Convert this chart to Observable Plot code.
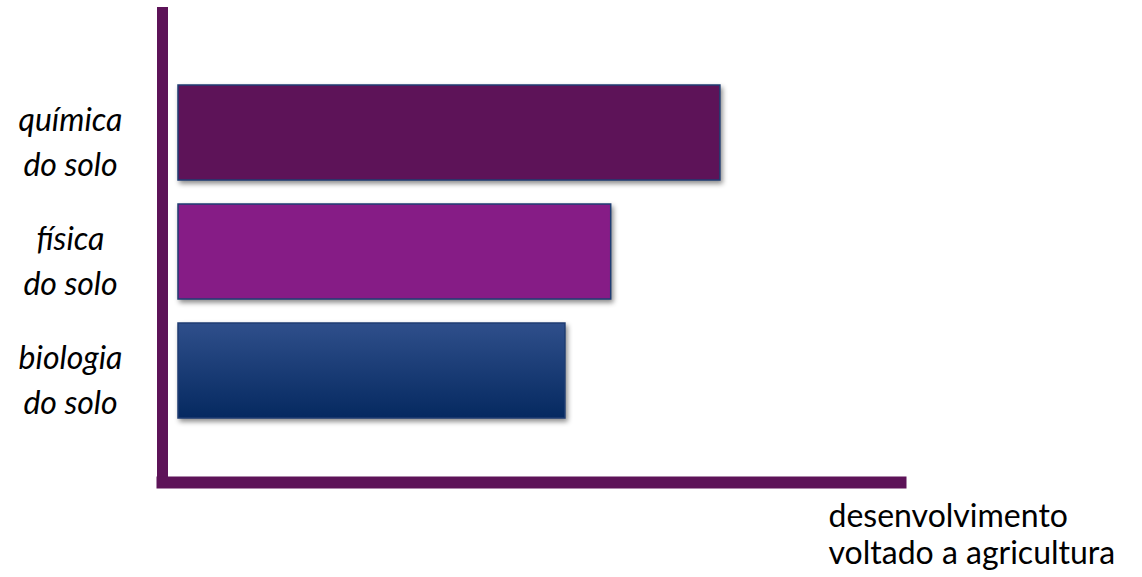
<!DOCTYPE html>
<html><head><meta charset="utf-8">
<script src="https://cdn.jsdelivr.net/npm/d3@7"></script>
<script src="https://cdn.jsdelivr.net/npm/@observablehq/plot@0.6"></script>
<style>body{margin:0;background:#fff;}</style>
</head><body><div id="chart"></div>
<script>
const categories = ["química do solo", "física do solo", "biologia do solo"];
const categoryLines = [["química", "do solo"], ["física", "do solo"], ["biologia", "do solo"]];
const values = [75.6, 60.8, 54.6];
const fills = ["#5d1358", "#861c86", "url(#bioGrad)"];
const xLabelLines = ["desenvolvimento", "voltado a agricultura"];

const data = categories.map((c, i) => ({category: c, value: values[i], fill: fills[i]}));
const axisColor = "#5d1358";

const plot = Plot.plot({
  width: 1142, height: 577,
  marginLeft: 162, marginRight: 242, marginTop: 12, marginBottom: 95,
  x: {domain: [0, 100], axis: null},
  y: {domain: categories, range: [72, 430.5], paddingInner: 0.2, paddingOuter: 0.1, axis: null},
  color: {type: "identity"},
  style: {fontFamily: "Lato, sans-serif", background: "#fff"},
  marks: [
    Plot.barX(data, {y: "category", x: "value", fill: "fill", stroke: "#1f3d73", strokeWidth: 1.5, insetLeft: 16}),
    Plot.frame({anchor: "left", stroke: axisColor, strokeWidth: 11, strokeLinecap: "square"}),
    Plot.frame({anchor: "bottom", stroke: axisColor, strokeWidth: 12, strokeLinecap: "square"}),
    Plot.axisY({tickSize: 0, tickPadding: 92, textAnchor: "middle", dy: 6, lineHeight: 1.4, label: null,
      fontSize: 32, fontStyle: "italic", fill: "#000",
      tickFormat: d => categoryLines[categories.indexOf(d)].join("\n")}),
    Plot.text([xLabelLines.join("\n")], {frameAnchor: "bottom-right", textAnchor: "start", lineAnchor: "top",
      dx: -72, dy: 18, fontSize: 32, lineHeight: 1.16, fill: "#000"})
  ]
});

const svg = d3.select(plot);
const defs = svg.insert("defs", ":first-child");
const g = defs.append("linearGradient").attr("id", "bioGrad").attr("x1", 0).attr("y1", 0).attr("x2", 0).attr("y2", 1);
g.append("stop").attr("offset", "0%").attr("stop-color", "#2f4f8b");
g.append("stop").attr("offset", "100%").attr("stop-color", "#052960");
svg.selectAll("g[aria-label='bar'] rect").style("filter", "drop-shadow(2px 3px 2.5px rgba(0,0,0,0.45))");

document.getElementById("chart").appendChild(plot);
</script>
</body></html>
